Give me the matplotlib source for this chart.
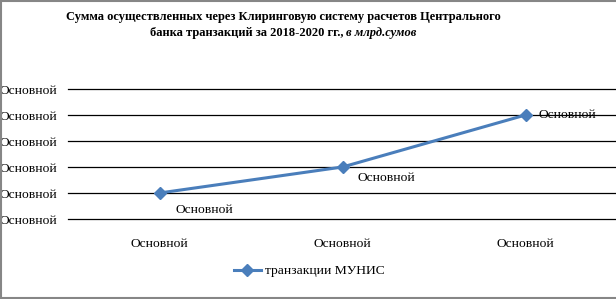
import matplotlib
matplotlib.use("Agg")
import matplotlib.pyplot as plt
from matplotlib.lines import Line2D

categories = ["Основной", "Основной", "Основной"]
values = [1, 2, 4]
point_labels = ["Основной", "Основной", "Основной"]
y_ticks = [0, 1, 2, 3, 4, 5]
y_tick_labels = ["Основной"] * 6
series_name = "транзакции МУНИС"
title_line1 = "Сумма осуществленных через Клиринговую систему расчетов Центрального"
title_line2a = "банка транзакций за 2018-2020 гг., "
title_line2b = "в млрд.сумов"

W, H = 616, 299
fig = plt.figure(figsize=(W / 100, H / 100), dpi=100)
plt.rcParams['font.family'] = ['Liberation Serif', 'DejaVu Serif']

ax = fig.add_axes([68 / W, 1 - 219 / H, (617 - 68) / W, 130 / H])
color = "#4A7EBB"
x = list(range(len(categories)))
line, = ax.plot(x, values, color=color, lw=2.2, marker="D", ms=6.5,
                markeredgecolor=color, markerfacecolor=color, label=series_name, zorder=3)
ax.set_xlim(-0.5, len(categories) - 0.5)
ax.set_ylim(y_ticks[0], y_ticks[-1])
ax.set_yticks(y_ticks)
ax.set_yticklabels(y_tick_labels, fontsize=9.7)
ax.set_xticks(x)
ax.set_xticklabels(categories, fontsize=9.7)
ax.tick_params(length=0)
ax.tick_params(axis="x", pad=14)
for lbl in ax.get_yticklabels():
    lbl.set_horizontalalignment("left")
ax.tick_params(axis="y", pad=68 * 0.72)
ax.grid(axis="y", color="black", lw=0.9)
for gl in ax.yaxis.get_gridlines():
    gl.set_clip_on(False)
for s in ax.spines.values():
    s.set_visible(False)

offsets = [(16, -17, "left", "center"), (15, -11, "left", "center"), (13, 0, "left", "center")]
for xi, v, t, (dx, dy, ha, va) in zip(x, values, point_labels, offsets):
    ax.annotate(t, (xi, v), xytext=(dx * 0.72, dy * 0.72), textcoords="offset points",
                ha=ha, va=va, fontsize=9.7)

fig.legend(handles=[line], labels=[series_name], loc="center",
           bbox_to_anchor=(309 / W, 1 - 271 / H), frameon=False, fontsize=9.7,
           handlelength=2.0, handletextpad=0.3)

fig.text(283 / W, 1 - 17 / H, title_line1, ha="center", va="center",
         fontsize=9, fontweight="bold")
t1 = fig.text(0, 1 - 33 / H, title_line2a, ha="left", va="center",
              fontsize=9, fontweight="bold")
t2 = fig.text(0, 1 - 33 / H, title_line2b, ha="left", va="center",
              fontsize=9, fontweight="bold", style="italic")
fig.canvas.draw()
r = fig.canvas.get_renderer()
w1 = t1.get_window_extent(r).width
w2 = t2.get_window_extent(r).width
start = 283 - (w1 + w2) / 2
t1.set_x(start / W)
t2.set_x((start + w1) / W)

# frame: left, top, bottom (right edge cropped in reference)
bc = "#868686"
fig.lines.append(Line2D([1 / W, 1 / W], [0, 1], transform=fig.transFigure, color=bc, lw=1.5))
fig.lines.append(Line2D([0, 1], [1 - 1 / H, 1 - 1 / H], transform=fig.transFigure, color=bc, lw=1.5))
fig.lines.append(Line2D([0, 1], [1 / H, 1 / H], transform=fig.transFigure, color=bc, lw=1.5))
fig.savefig("out.png", dpi=100)
